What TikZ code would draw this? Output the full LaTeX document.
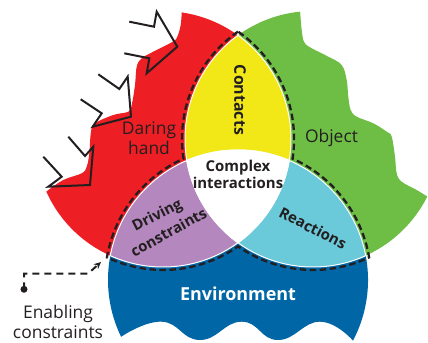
\documentclass[tikz,border=0pt]{standalone}
\usepackage{fontspec}
\setmainfont{Open Sans}
\usepackage{xcolor}
\usetikzlibrary{arrows.meta}
\definecolor{handred}{RGB}{237,30,36}
\definecolor{objgreen}{RGB}{110,190,70}
\definecolor{envblue}{RGB}{0,102,166}
\definecolor{contyellow}{RGB}{242,232,24}
\definecolor{drivpurple}{RGB}{180,136,190}
\definecolor{reacyan}{RGB}{106,202,218}
\definecolor{ink}{RGB}{35,31,32}
\tikzset{>={Stealth[length=7bp,width=6.5bp]}}

\begin{document}
\begin{tikzpicture}[x=1bp, y=1bp,
  lbl/.style={text=ink, align=center, font=\fontsize{17.5}{20.5}\selectfont},
  inner/.style={text=ink, align=center, inner sep=1bp, font=\fontsize{15}{17}\selectfont\bfseries},
  zigzag/.style={draw=ink, line width=2bp, miter limit=10},
  rim/.style={draw=white, line width=1bp},
  ring/.style={draw=ink, line width=2.3bp, dash pattern=on 6.5bp off 3.5bp}]
  \useasboundingbox (0,0) rectangle (428,343);

  % circle centres
  \coordinate (hc) at (163,204);
  \coordinate (oc) at (313,204);
  \coordinate (ec) at (238,63);

  % outer shapes, each a circle with one wavy side
  \fill[handred] plot[smooth, tension=0.6] coordinates {(181.7,330.6) (180.7,318)
      (177.3,306.3) (172.7,301.3) (153.3,291.3) (141.7,284.7) (136.7,276.3)
      (135,258) (131.7,238) (128.3,231.3) (113.3,228) (95,219.7) (91,211.3)
      (89.3,189.7) (86.7,176.3) (81.7,169.7) (63.3,163) (46.3,151.4)}
    arc[start angle=204.25, end angle=441.6, radius=128] -- cycle;
  \fill[objgreen] plot[smooth, tension=0.6] coordinates {(300.1,331.3) (301.7,313)
      (304,301.3) (310,295.7) (328.3,286.3) (341.7,278) (346.7,263) (348.3,246.3)
      (350.7,233) (356.7,226.3) (373.3,219.7) (386.7,211.3) (391.7,206.3)
      (395,186.3) (396.7,169.7) (401.7,161.3) (416.7,153) (427.3,146.5)}
    arc[start angle=-26.7, end angle=-264.2, radius=128] -- cycle;
  \fill[envblue] (353,2.4) arc[start angle=-27.8, end angle=205.9, radius=130]
    -- plot[smooth, tension=0.8] coordinates {(121.1,6.2) (161.7,21.3) (200,3)
      (241.7,21.3) (278,3) (320,21.3) (353,2.4)} -- cycle;

  % overlaps
  \begin{scope}
    \clip (hc) circle[radius=128];
    \fill[contyellow] (oc) circle[radius=128];
    \fill[drivpurple] (ec) circle[radius=130];
  \end{scope}
  \begin{scope}
    \clip (oc) circle[radius=128];
    \fill[reacyan] (ec) circle[radius=130];
  \end{scope}
  \begin{scope}
    \clip (hc) circle[radius=128];
    \clip (oc) circle[radius=128];
    \fill[white] (ec) circle[radius=130];
  \end{scope}
  \foreach \a/\ra/\b/\rb in {hc/128/oc/128, hc/128/ec/130, oc/128/hc/128,
      oc/128/ec/130, ec/130/hc/128, ec/130/oc/128}{
    \begin{scope}
      \clip (\a) circle[radius=\ra];
      \draw[rim] (\b) circle[radius=\rb];
    \end{scope}
  }

  % dashed ring round the overlaps
  \coordinate (top) at (238,311.4);
  \draw[ring] (top) arc[start angle=124.93, end angle=188.64, radius=131]
    arc[start angle=114.20, end angle=170.21, radius=133]
    arc[start angle=244.65, end angle=304.93, radius=131]
    arc[start angle=235.07, end angle=295.35, radius=131]
    arc[start angle=9.79, end angle=65.80, radius=133]
    arc[start angle=-8.64, end angle=55.07, radius=131] -- cycle;

  % zigzag arrows hitting the hand
  \draw[zigzag] (129.3,321.3) -- (154,316.3) -- (156.7,331.3) -- (177.3,296.3)
    -- (146.7,269.7) -- (149.3,284.7) -- (124.3,289.7);
  \draw[zigzag] (98.3,268.7) -- (119.3,254) -- (127.7,266.3) -- (131,226.3)
    -- (92.7,216.3) -- (101.7,229.7) -- (80.7,243.7);
  \draw[zigzag] (68.3,206.3) -- (85,187) -- (93.3,196.3) -- (90,158)
    -- (48.3,156.3) -- (61.7,166.3) -- (43.3,186.3);

  % labels
  \node[lbl] (hand) at (149,205) {Daring\\hand};
  \node[lbl] (object) at (331.5,205) {Object};
  \node[inner, font=\fontsize{16}{18}\selectfont\bfseries, rotate=-90] (contacts) at (240,243) {Contacts};
  \node[inner] (complex) at (238,169) {Complex\\interactions};
  \node[inner, rotate=27] (driving) at (157.5,127) {Driving};
  \node[inner, rotate=29] (constraints) at (168.5,111) {constraints};
  \node[inner, rotate=-27] (reactions) at (313,115) {Reactions};
  \node[inner, text=white, font=\fontsize{18}{20}\selectfont\bfseries] (env) at (238,49) {Environment};
  \node[lbl] (enabling) at (58,21) {Enabling\\constraints};

  % pointer from the enabling constraints
  \node[circle, fill=ink, inner sep=0pt, minimum size=7bp] (pin) at (24,53.7) {};
  \coordinate (bend) at (88,69.3);
  \coordinate (tip) at (101,81);
  \draw[ink, line width=2bp, dash pattern=on 7bp off 5bp, ->] (pin.center) |- (bend) -- (tip);
\end{tikzpicture}
\end{document}
